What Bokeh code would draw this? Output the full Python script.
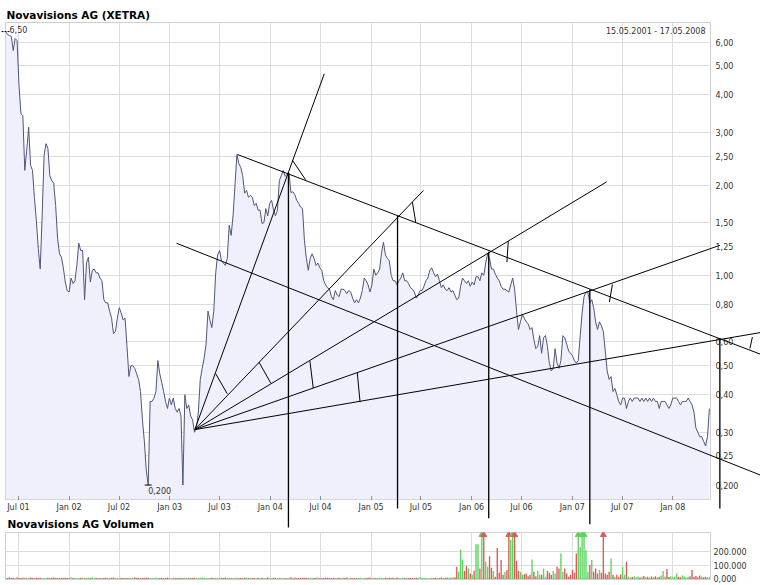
import pandas as pd
from bokeh.plotting import figure
from bokeh.models import (Range1d, FixedTicker, CustomJSTickFormatter, DatetimeTickFormatter,
                          Title, ColumnDataSource, Grid)
from bokeh.layouts import column
from bokeh.embed import file_html
from bokeh.resources import INLINE
from bokeh.core.properties import value

# ---------------- data ----------------
start_date = "2001-05-15"
end_date = "2008-05-17"

# weekly closing prices (EUR)
prices = [
    6.50, 6.36, 6.31, 6.26, 5.62, 6.16, 6.07, 4.30, 3.46, 3.41,
    2.24, 2.61, 3.12, 2.33, 2.24, 1.82, 1.52, 1.23, 1.05, 1.58,
    2.51, 2.75, 2.65, 2.15, 2.07, 2.03, 1.71, 1.33, 1.18, 1.15,
    1.06, 0.95, 0.89, 0.88, 0.98, 0.94, 0.96, 1.08, 1.28, 1.21,
    1.21, 0.83, 1.10, 1.15, 0.95, 1.04, 1.05, 1.02, 1.02, 0.98,
    0.96, 0.83, 0.81, 0.81, 0.76, 0.72, 0.64, 0.65, 0.72, 0.78,
    0.75, 0.71, 0.72, 0.58, 0.46, 0.50, 0.50, 0.49, 0.47, 0.45,
    0.41, 0.33, 0.28, 0.224, 0.200, 0.38, 0.38, 0.39, 0.41, 0.52,
    0.47, 0.44, 0.41, 0.38, 0.36, 0.39, 0.37, 0.39, 0.36, 0.35,
    0.36, 0.34, 0.20, 0.40, 0.36, 0.37, 0.34, 0.33, 0.30, 0.31,
    0.35, 0.45, 0.49, 0.53, 0.59, 0.76, 0.71, 0.67, 0.76, 1.02,
    1.17, 1.21, 1.12, 1.10, 1.08, 1.14, 1.47, 1.36, 1.58, 2.00,
    2.53, 2.36, 2.29, 2.15, 1.88, 1.92, 1.82, 1.85, 1.82, 1.71,
    1.74, 1.65, 1.65, 1.49, 1.50, 1.67, 1.58, 1.74, 1.78, 1.65,
    1.58, 1.65, 2.07, 2.15, 2.24, 2.14, 2.17, 2.20, 1.89, 1.90,
    1.86, 1.78, 1.74, 1.69, 1.67, 1.31, 1.14, 1.04, 1.14, 1.18,
    1.14, 1.08, 1.10, 1.06, 1.04, 0.96, 0.93, 0.91, 0.90, 0.85,
    0.83, 0.89, 0.86, 0.85, 0.90, 0.90, 0.89, 0.87, 0.89, 0.88,
    0.84, 0.81, 0.83, 0.81, 0.84, 0.89, 0.98, 0.96, 0.93, 0.88,
    0.93, 1.05, 1.00, 1.02, 1.05, 1.19, 1.29, 1.17, 1.14, 1.12,
    1.00, 0.96, 0.96, 0.93, 0.96, 0.98, 1.02, 0.96, 0.96, 0.94,
    0.91, 0.90, 0.88, 0.84, 0.86, 0.89, 0.89, 0.92, 0.96, 0.98,
    1.04, 1.06, 1.02, 0.99, 1.01, 0.96, 0.91, 0.93, 0.90, 0.89,
    0.91, 0.88, 0.89, 0.86, 0.83, 0.84, 0.92, 0.98, 0.96, 0.94,
    0.96, 0.92, 0.95, 0.93, 0.99, 0.99, 0.96, 1.02, 1.00, 1.10,
    1.18, 1.14, 1.05, 1.05, 1.01, 0.98, 0.96, 0.92, 0.90, 0.90,
    0.89, 0.88, 0.93, 0.98, 0.90, 0.76, 0.66, 0.70, 0.74, 0.72,
    0.70, 0.69, 0.66, 0.67, 0.61, 0.57, 0.58, 0.63, 0.55, 0.62,
    0.63, 0.58, 0.51, 0.48, 0.49, 0.57, 0.51, 0.49, 0.52, 0.63,
    0.62, 0.59, 0.56, 0.55, 0.54, 0.52, 0.51, 0.52, 0.63, 0.75,
    0.85, 0.88, 0.88, 0.81, 0.83, 0.78, 0.70, 0.66, 0.70, 0.68,
    0.65, 0.56, 0.48, 0.45, 0.46, 0.41, 0.42, 0.40, 0.38, 0.37,
    0.39, 0.39, 0.36, 0.38, 0.39, 0.38, 0.39, 0.39, 0.39, 0.38,
    0.39, 0.38, 0.39, 0.38, 0.39, 0.38, 0.39, 0.38, 0.38, 0.36,
    0.38, 0.38, 0.38, 0.37, 0.36, 0.37, 0.39, 0.39, 0.39, 0.38,
    0.37, 0.38, 0.38, 0.38, 0.39, 0.38, 0.37, 0.35, 0.31, 0.30,
    0.29, 0.29, 0.28, 0.27, 0.29, 0.36,
]

# weekly volume (shares)
volumes_early = [
    9000, 7000, 12000, 6000, 8000, 5000, 11000, 7000, 6000, 9000,
    5000, 8000, 6000, 10000, 7000, 4000, 9000, 6000, 8000, 5000,
    7000, 6000, 9000, 5000, 8000, 11000, 6000, 7000, 5000, 8000,
    6000, 9000, 7000, 5000, 10000, 6000, 8000, 4000, 7000, 9000,
    8000, 5000, 6000, 9000, 7000, 12000, 5000, 8000, 6000, 7000,
    4000, 7000, 9000, 6000, 5000, 8000, 10000, 6000, 7000, 5000,
    9000, 6000, 8000, 7000, 5000, 6000, 9000, 11000, 6000, 8000,
    5000, 7000, 6000, 8000, 9000, 5000, 7000, 6000, 10000, 7000,
    6000, 8000, 5000, 7000, 9000, 6000, 4000, 8000, 7000, 6000,
    10000, 7000, 6000, 9000, 5000, 8000, 7000, 6000, 9000, 5000,
    7000, 9000, 12000, 8000, 6000, 7000, 5000, 9000, 6000, 8000,
    6000, 5000, 8000, 7000, 10000, 6000, 9000, 5000, 7000, 8000,
    8000, 6000, 7000, 5000, 9000, 11000, 6000, 8000, 5000, 7000,
    5000, 9000, 6000, 8000, 7000, 6000, 10000, 7000, 6000, 9000,
    7000, 6000, 8000, 9000, 5000, 7000, 6000, 8000, 12000, 6000,
    9000, 5000, 7000, 6000, 8000, 9000, 7000, 5000, 8000, 6000,
    6000, 8000, 10000, 7000, 5000, 6000, 9000, 8000, 7000, 5000,
    8000, 7000, 5000, 9000, 6000, 8000, 6000, 11000, 5000, 7000,
    5000, 6000, 8000, 7000, 9000, 5000, 7000, 6000, 8000, 10000,
    7000, 9000, 6000, 5000, 8000, 7000, 6000, 9000, 5000, 8000,
    6000, 8000, 7000, 10000, 6000, 5000, 8000, 7000, 9000, 6000,
    9000, 6000, 5000, 8000, 7000, 12000, 6000, 7000, 8000, 5000,
    7000, 8000, 6000, 9000, 5000, 7000, 10000, 6000, 8000,
]
volumes_late = [
    10000, 8000, 9000, 10000, 12000,
    88000, 52000, 212000, 140000, 57000, 93000, 76000, 40000, 30000, 60000,
    250000, 250000, 76000, 400000, 400000, 124000, 88000, 164000, 80000, 57000,
    15000, 224000, 45000, 136000, 30000, 52000, 64000, 400000, 283000, 400000,
    400000, 131000, 57000, 52000, 30000, 33000, 40000, 20000, 30000, 140000,
    52000, 20000, 60000, 30000, 30000, 76000, 15000, 57000, 45000, 30000,
    57000, 40000, 88000, 76000, 183000, 52000, 76000, 40000, 15000, 30000,
    64000, 45000, 183000, 400000, 231000, 400000, 400000, 207000, 52000, 100000,
    136000, 52000, 76000, 40000, 64000, 45000, 400000, 40000, 30000, 52000,
    148000, 30000, 15000, 30000, 15000, 33000, 88000, 30000, 124000, 15000,
    10000, 14000, 20000, 12000, 18000, 10000, 15000, 22000, 12000, 16000,
    10000, 18000, 14000, 20000, 12000, 15000, 24000, 57000, 18000, 71000,
    14000, 20000, 12000, 16000, 40000, 15000, 12000, 24000, 18000, 10000,
    16000, 20000, 64000, 14000, 22000, 12000, 24000, 18000, 12000, 16000,
    14000, 10000,
]
volumes = volumes_early + volumes_late

# right-axis ticks
price_ticks = [0.20, 0.25, 0.30, 0.40, 0.50, 0.60, 0.80, 1.00, 1.25, 1.50, 2.00, 2.50, 3.00, 4.00, 5.00, 6.00]
volume_ticks = [0, 100000, 200000]

# trend-line fan drawn on the chart (start date, start price, end date, end price)
fan_origin_date = "2003-04-02"
fan_origin_price = 0.306
fan_end_dates = ["2004-07-15", "2005-07-10", "2007-05-06", "2008-06-20", "2008-11-19"]
fan_end_prices = [4.70, 1.92, 2.05, 1.26, 0.646]

trend_start_dates = ["2003-09-04", "2003-01-26"]
trend_start_prices = [2.53, 1.28]
trend_end_dates = ["2008-11-19", "2008-11-19"]
trend_end_prices = [0.544, 0.215]

vert_dates = ["2004-03-07", "2005-04-07", "2006-03-04", "2007-03-06", "2008-06-20"]
vert_top = [2.20, 1.585, 1.20, 0.898, 0.617]
vert_bottom = [0.1445, 0.167, 0.155, 0.148, 0.167]

mark_start_dates = ["2003-06-17", "2003-11-21", "2004-05-24", "2004-11-12", "2004-03-22",
                    "2005-05-31", "2006-05-14", "2007-05-27", "2008-10-16"]
mark_start_prices = [0.470, 0.514, 0.518, 0.4725, 2.417, 1.755, 1.301, 0.933, 0.623]
mark_end_dates = ["2003-07-29", "2004-01-03", "2004-06-05", "2004-11-22", "2004-05-08",
                  "2005-06-12", "2006-05-09", "2007-05-16", "2008-10-07"]
mark_end_prices = [0.403, 0.4375, 0.421, 0.378, 2.085, 1.505, 1.107, 0.815, 0.570]

# ---------------- derived ----------------
n = min(len(prices), len(volumes))
prices = prices[:n]
volumes = volumes[:n]
dates = pd.date_range(start_date, periods=n, freq="7D")
t0 = pd.Timestamp(start_date)
t1 = pd.Timestamp(end_date)

def fmt_price(v):
    return (f"{v:.3f}" if v < 0.25 else f"{v:.2f}").replace(".", ",")

x_ticks = pd.date_range("2001-07-01", "2008-01-01", freq="6MS")
x_tick_ms = [t.timestamp() * 1000 for t in x_ticks]

FONT = "DejaVu Sans"
GRID = "#dcdcdc"
OUTLINE = "#cfcfcf"
Y_MIN, Y_MAX = 0.179, 6.97
V_MIN, V_MAX = -4000, 335000

# ---------------- main price chart ----------------
p1 = figure(frame_width=705, frame_height=477, x_axis_type="datetime", y_axis_type="log",
            y_axis_location="right", x_range=Range1d(t0, t1), y_range=Range1d(Y_MIN, Y_MAX),
            output_backend="svg", toolbar_location=None, min_border=0,
            min_border_left=5, min_border_right=50, min_border_top=22, min_border_bottom=0)
p1.title.text = "Novavisions AG (XETRA)"
p1.title.text_font = FONT
p1.title.text_font_style = "bold"
p1.title.text_font_size = "10.5px"
p1.title.text_color = "#000000"
p1.title.standoff = 4
p1.title.offset = 1

p1.outline_line_color = OUTLINE
p1.background_fill_color = "white"
p1.border_fill_color = "white"

p1.xaxis.ticker = FixedTicker(ticks=x_tick_ms, minor_ticks=[])
p1.xgrid.ticker = p1.xaxis.ticker
p1.xaxis.formatter = DatetimeTickFormatter(days="%b %y", months="%b %y", years="%b %y")
p1.xaxis.axis_line_color = None
p1.xaxis.major_tick_in = 4
p1.xaxis.major_tick_out = 0
p1.xaxis.major_tick_line_color = "#333333"
p1.xaxis.major_tick_line_dash = "1 1"
p1.xaxis.minor_tick_line_color = None
p1.xaxis.major_label_standoff = 3
p1.xaxis.major_label_text_font = FONT
p1.xaxis.major_label_text_font_size = "8px"
p1.xaxis.major_label_text_color = "#333333"

p1.yaxis.ticker = FixedTicker(ticks=price_ticks, minor_ticks=[])
p1.ygrid.ticker = p1.yaxis.ticker
p1.yaxis.formatter = CustomJSTickFormatter(
    code="return (tick < 0.25 ? tick.toFixed(3) : tick.toFixed(2)).replace('.', ',');")
p1.yaxis.axis_line_color = None
p1.yaxis.major_tick_in = 0
p1.yaxis.major_tick_out = 0
p1.yaxis.minor_tick_line_color = None
p1.yaxis.major_label_standoff = 5
p1.yaxis.major_label_text_font = FONT
p1.yaxis.major_label_text_font_size = "8px"
p1.yaxis.major_label_text_color = "#333333"

for g in (p1.xgrid, p1.ygrid):
    g.grid_line_color = GRID
    g.grid_line_width = 1

src = ColumnDataSource(dict(date=dates, price=prices))
p1.varea(x="date", y1=Y_MIN, y2="price", source=src, fill_color="#eff0fc")
p1.line(x="date", y="price", source=src, line_color="#4f5677", line_width=1)

# drawn trend lines (overlay level so they can run past the frame)
fan_src = ColumnDataSource(dict(
    x0=pd.to_datetime([fan_origin_date] * len(fan_end_dates)), y0=[fan_origin_price] * len(fan_end_dates),
    x1=pd.to_datetime(fan_end_dates), y1=fan_end_prices))
p1.segment(x0="x0", y0="y0", x1="x1", y1="y1", source=fan_src, line_color="black", line_width=1, level="overlay")

tr_src = ColumnDataSource(dict(x0=pd.to_datetime(trend_start_dates), y0=trend_start_prices,
                               x1=pd.to_datetime(trend_end_dates), y1=trend_end_prices))
p1.segment(x0="x0", y0="y0", x1="x1", y1="y1", source=tr_src, line_color="black", line_width=1, level="overlay")

v_src = ColumnDataSource(dict(x=pd.to_datetime(vert_dates), top=vert_top, bottom=vert_bottom))
p1.segment(x0="x", y0="top", x1="x", y1="bottom", source=v_src, line_color="black", line_width=1.3, level="overlay")

m_src = ColumnDataSource(dict(x0=pd.to_datetime(mark_start_dates), y0=mark_start_prices,
                              x1=pd.to_datetime(mark_end_dates), y1=mark_end_prices))
p1.segment(x0="x0", y0="y0", x1="x1", y1="y1", source=m_src, line_color="black", line_width=1, level="overlay")

# high / low markers
i_max = max(range(n), key=lambda i: prices[i])
i_min = min(range(n), key=lambda i: prices[i])
p1.scatter(x=[dates[i_max]], y=[prices[i_max]], marker="dash", size=8, line_color="black",
           line_dash="2 1", level="overlay")
p1.text(x=[dates[i_max]], y=[prices[i_max]], text=[fmt_price(prices[i_max])], x_offset=4, y_offset=1,
        text_baseline="bottom", text_align="left", text_font=value(FONT), text_font_size="8px",
        text_color="#333333", level="overlay")
p1.scatter(x=[dates[i_min]], y=[prices[i_min]], marker="dash", size=7, line_color="black", level="overlay")
p1.text(x=[dates[i_min]], y=[prices[i_min]], text=[fmt_price(prices[i_min])], x_offset=0, y_offset=2,
        text_baseline="top", text_align="left", text_font=value(FONT), text_font_size="8px",
        text_color="#333333", level="overlay")

# date range label
p1.text(x=[t1], y=[Y_MAX], text=[f"{t0:%d.%m.%Y} - {t1:%d.%m.%Y}"], x_offset=-5, y_offset=4,
        text_baseline="top", text_align="right", text_font=value(FONT), text_font_size="8px",
        text_color="#333333")

vol_title = Title(text="Novavisions AG Volumen", align="left", text_font=FONT, text_font_style="bold",
                  text_font_size="10.5px", text_color="#000000", standoff=2, offset=2)
p1.add_layout(vol_title, "below")

# ---------------- volume chart ----------------
p2 = figure(frame_width=705, frame_height=47, x_axis_type="datetime", x_axis_location=None,
            y_axis_location="right", x_range=p1.x_range, y_range=Range1d(V_MIN, V_MAX),
            output_backend="svg", toolbar_location=None, min_border=0,
            min_border_left=5, min_border_right=50, min_border_top=2, min_border_bottom=6)
p2.outline_line_color = OUTLINE
p2.add_layout(Grid(dimension=0, ticker=FixedTicker(ticks=x_tick_ms, minor_ticks=[]), grid_line_color=GRID))
p2.yaxis.ticker = FixedTicker(ticks=volume_ticks, minor_ticks=[])
p2.ygrid.ticker = p2.yaxis.ticker
p2.ygrid.grid_line_color = GRID
p2.yaxis.formatter = CustomJSTickFormatter(
    code="return tick == 0 ? '0,000' : (tick / 1000).toFixed(0) + '.000';")
p2.yaxis.axis_line_color = None
p2.yaxis.major_tick_in = 0
p2.yaxis.major_tick_out = 0
p2.yaxis.minor_tick_line_color = None
p2.yaxis.major_label_standoff = 3
p2.yaxis.major_label_text_font = FONT
p2.yaxis.major_label_text_font_size = "8px"
p2.yaxis.major_label_text_color = "#333333"

UP, DOWN = "#5cd65c", "#dc5c5c"
colors = [UP] + [UP if prices[i] >= prices[i - 1] else DOWN for i in range(1, n)]
vsrc = ColumnDataSource(dict(date=dates, vol=volumes, color=colors))
p2.vbar(x="date", top="vol", bottom=0, width=5 * 86400000, source=vsrc,
        fill_color="color", line_color=None)

over = [i for i in range(n) if volumes[i] > V_MAX]
p2.scatter(x=[dates[i] for i in over], y=[V_MAX * 0.95] * len(over), marker="triangle", size=6,
           fill_color=[colors[i] for i in over], line_color=[colors[i] for i in over])

layout = column(p1, p2, spacing=0)
open("out.html", "w").write(file_html(layout, INLINE))
